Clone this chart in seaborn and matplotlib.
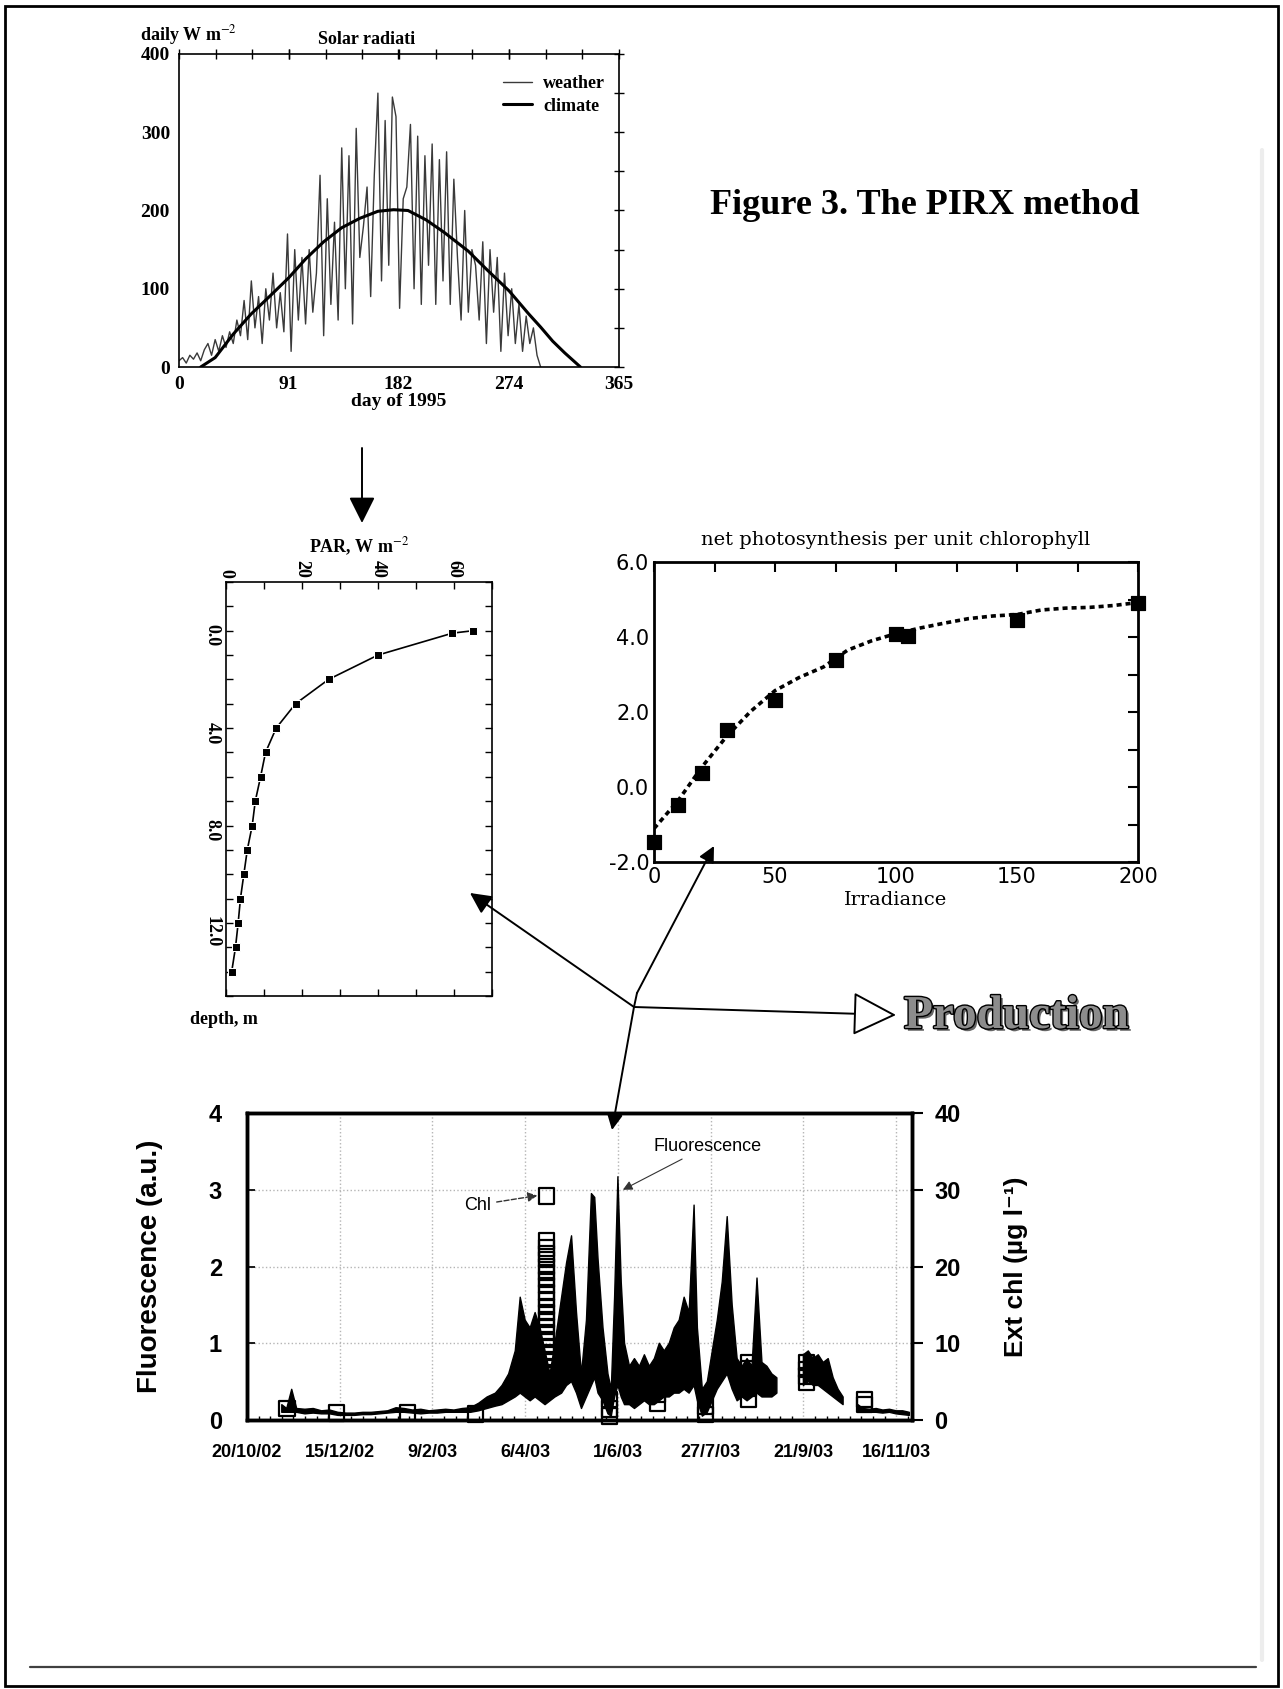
import numpy as np
import matplotlib
matplotlib.use('Agg')
import matplotlib.pyplot as plt
import matplotlib.patheffects as pe
from matplotlib.patches import Rectangle
from matplotlib.ticker import MultipleLocator, FixedLocator
import seaborn as sns

# --- solar radiation, 1995 ---
weather_day = list(range(0, 301, 3))
weather_wm2 = [8, 12, 5, 15, 10, 18, 8, 22, 30, 15,
               35, 20, 40, 25, 45, 30, 60, 40, 85, 35,
               110, 50, 90, 30, 100, 60, 120, 50, 95, 45,
               170, 20, 150, 60, 140, 55, 150, 70, 120, 245,
               40, 215, 80, 185, 60, 280, 100, 270, 55, 305,
               140, 180, 230, 90, 245, 350, 110, 315, 130, 345,
               320, 75, 215, 230, 310, 100, 295, 80, 270, 130,
               285, 80, 265, 110, 275, 80, 240, 140, 60, 200,
               70, 150, 130, 60, 160, 30, 150, 70, 140, 20,
               120, 40, 100, 30, 80, 20, 65, 30, 50, 15,
               0]
climate_day = [18, 30, 45, 60, 75, 91, 105, 120, 135, 150, 165, 178,
               190, 205, 220, 240, 255, 274, 290, 300, 310, 320, 333]
climate_wm2 = [0, 12, 42, 68, 90, 114, 138, 160, 178, 190, 199, 201,
               200, 188, 172, 148, 125, 97, 68, 51, 33, 18, 0]

# --- light profile ---
par_wm2 = [65, 59.6, 40, 27, 18.3, 13.2, 10.4, 9.1, 7.7, 6.9, 5.6, 4.7, 3.8, 3.2, 2.5, 1.5]
par_depth = [0, 0.1, 1, 2, 3, 4, 5, 6, 7, 8, 9, 10, 11, 12, 13, 14]

# --- P-I curve ---
pi_irr = [0, 10, 20, 30, 50, 75, 100, 105, 150, 200]
pi_rate = [-1.47, -0.47, 0.38, 1.51, 2.31, 3.40, 4.09, 4.02, 4.46, 4.92]
fit_irr = [0, 10, 20, 30, 40, 50, 60, 70, 80, 90, 100,
           110, 120, 130, 140, 150, 160, 170, 180, 190, 200]
fit_rate = [-1.11, -0.36, 0.55, 1.35, 2.02, 2.57, 2.92, 3.2, 3.65, 3.9, 4.09,
            4.24, 4.37, 4.49, 4.56, 4.6, 4.72, 4.77, 4.79, 4.84, 4.92]

# --- fluorescence record, days after 20/10/02 ---
fluor_day = [21, 24, 27, 30, 35, 40, 45, 50, 55, 60, 65, 70, 75, 80, 85, 90, 95, 100,
             105, 110, 115, 120, 125, 130, 135, 140, 145, 150, 154, 158, 162, 165,
             168, 171, 174, 177, 180, 183, 186, 190, 193, 196, 199, 202, 205, 208,
             210, 212, 215, 218, 220, 222, 224, 226, 228, 231, 234, 237, 240, 243,
             246, 249, 252, 255, 258, 261, 264, 267, 270, 272, 275, 278, 281, 284,
             287, 290, 293, 296, 299, 302, 305, 308, 311, 314, 317, 320, 328,
             336, 339, 342, 345, 348, 351, 354, 357, 360, 364,
             369, 372, 376, 380, 384, 388, 392, 396, 400]
fluor_low = [.10, .10, .10, .10, .08, .09, .08, .08, .06, .06, .06, .07, .07, .08, .09, .10, .10, .09,
             .08, .09, .09, .10, .10, .10, .10, .12, .15, .18, .20, .25, .30, .35,
             .30, .25, .30, .25, .20, .25, .30, .35, .45, .50, .35, .15, .30, .45,
             .55, .35, .25, .08, .05, .30, .45, .30, .20, .20, .15, .20, .25, .20,
             .20, .25, .30, .30, .35, .35, .40, .35, .45, .25, .05, .10, .25, .40,
             .50, .60, .40, .25, .30, .25, .30, .35, .30, .30, .30, .35, np.nan,
             .45, .50, .45, .45, .40, .35, .30, .25, .20, np.nan,
             .10, .10, .10, .10, .09, .10, .08, .07, .06]
fluor_high = [.20, .15, .40, .15, .14, .15, .12, .13, .10, .09, .09, .10, .10, .11, .12, .16, .15, .13,
              .14, .12, .13, .14, .13, .15, .16, .22, .30, .35, .45, .60, .90, 1.60,
              1.30, 1.20, 1.40, 1.20, .90, .60, 1.00, 1.60, 2.05, 2.40, 1.40, .60, 1.30, 2.95,
              2.90, 2.10, 1.20, .60, .40, 1.60, 3.17, 1.80, 1.00, .70, .80, .70, .85, .70,
              .80, 1.00, .90, 1.00, 1.20, 1.30, 1.60, 1.40, 2.80, 1.20, .40, .50, .90, 1.30,
              1.80, 2.65, 1.50, .80, .70, .80, .70, 1.85, .75, .70, .60, .55, np.nan,
              .85, .90, .80, .85, .75, .80, .55, .40, .30, np.nan,
              .20, .15, .14, .15, .13, .14, .12, .12, .10]
chl_day = [24, 54, 97, 138,
           181, 181, 181, 181, 181, 181, 181, 181, 181, 181, 181, 181,
           181, 181, 181, 181, 181, 181, 181, 181, 181, 181, 181, 181,
           219, 219, 219, 248, 248, 248, 277, 277,
           303, 303, 303, 303, 303, 303, 338, 338, 338, 338, 373, 373]
chl_ugl = [1.5, 0.9, 1.0, 0.8,
           29.2, 23.3, 22.4, 21.6, 20.9, 20.0, 19.2, 18.3, 17.5, 16.6, 15.7, 14.8,
           14.0, 13.1, 12.2, 11.4, 10.5, 9.6, 8.8, 7.9, 7.0, 6.2, 5.3, 4.4,
           2.7, 1.4, 0.5, 4.4, 3.3, 2.2, 1.8, 0.7,
           7.5, 6.7, 5.9, 5.1, 4.2, 2.7, 7.5, 6.6, 5.7, 4.9, 2.7, 2.0]
date_ticks = [0, 56, 112, 168, 224, 280, 336, 392]
date_labels = ['20/10/02', '15/12/02', '9/2/03', '6/4/03',
               '1/6/03', '27/7/03', '21/9/03', '16/11/03']

sns.set_theme(style='white', rc={'axes.edgecolor': 'black', 'text.color': 'black',
                                 'xtick.color': 'black', 'ytick.color': 'black',
                                 'axes.labelcolor': 'black'})
plt.rcParams['font.family'] = ['Liberation Serif', 'DejaVu Serif']
plt.rcParams['mathtext.fontset'] = 'stix'

W, H = 1283, 1689


def box(l, t, r, b):
    # pixel box on the page -> figure fraction
    return [l / W, 1 - b / H, (r - l) / W, (b - t) / H]


fig = plt.figure(figsize=(W / 100, H / 100), dpi=100)
fig.patch.set_facecolor('white')

# ---------- solar radiation ----------
ax1 = fig.add_axes(box(179, 54, 619, 367))
sns.lineplot(x=weather_day, y=weather_wm2, ax=ax1, color='#3a3a3a', lw=1.0, label='weather')
sns.lineplot(x=climate_day, y=climate_wm2, ax=ax1, color='black', lw=2.2, label='climate')
ax1.set_xlim(0, 365)
ax1.set_ylim(0, 400)
ax1.set_xticks([0, 91, 182, 274, 365])
ax1.xaxis.set_minor_locator(FixedLocator(np.linspace(0, 365, 13)))
ax1.set_yticks(range(0, 401, 100))
ax1.yaxis.set_minor_locator(MultipleLocator(50))
ax1.tick_params(which='both', direction='inout', top=True, right=True, length=7, width=1,
                labelsize=14, pad=3)
for lab in ax1.get_xticklabels() + ax1.get_yticklabels():
    lab.set_fontweight('bold')
for s in ax1.spines.values():
    s.set_linewidth(1.2)
ax1.set_xlabel('day of 1995', fontsize=14, fontweight='bold', labelpad=0)
ax1.set_ylabel('')
ax1.legend(loc='upper right', bbox_to_anchor=(0.985, 0.955), frameon=False,
           prop={'family': 'Liberation Serif', 'weight': 'bold', 'size': 13},
           handlelength=1.6, handletextpad=0.6, labelspacing=0.3, borderaxespad=0)
fig.text(140 / W, 1 - 35 / H, 'daily W m$^{-2}$', fontsize=13, fontweight='bold',
         ha='left', va='center')
fig.text(318 / W, 1 - 40 / H, 'Solar radiati', fontsize=13, fontweight='bold',
         ha='left', va='center')

# ---------- light profile ----------
ax2 = fig.add_axes(box(226, 582, 492, 996))
sns.lineplot(x=par_wm2, y=par_depth, ax=ax2, color='black', lw=1.2, marker='s',
             markersize=6, sort=False, estimator=None)
ax2.set_xlim(0, 70)
ax2.set_ylim(15, -2)
ax2.xaxis.tick_top()
ax2.xaxis.set_label_position('top')
ax2.set_xticks([0, 20, 40, 60])
ax2.xaxis.set_minor_locator(MultipleLocator(10))
ax2.set_yticks([0, 4, 8, 12])
ax2.set_yticklabels(['0.0', '4.0', '8.0', '12.0'])
ax2.yaxis.set_minor_locator(MultipleLocator(1))
ax2.tick_params(which='both', direction='in', top=True, bottom=True, left=True, right=True,
                length=5, width=1, labelsize=13)
ax2.tick_params(axis='x', labelrotation=-90, pad=3)
ax2.tick_params(axis='y', labelrotation=-90, pad=4)
for lab in ax2.get_xticklabels() + ax2.get_yticklabels():
    lab.set_fontweight('bold')
for s in ax2.spines.values():
    s.set_linewidth(1.2)
ax2.set_xlabel('PAR, W m$^{-2}$', fontsize=13, fontweight='bold', labelpad=5)
ax2.set_ylabel('')
fig.text(190 / W, 1 - 1020 / H, 'depth, m', fontsize=13, fontweight='bold',
         ha='left', va='center')

# ---------- P-I curve ----------
ax3 = fig.add_axes(box(654, 562, 1138, 862))
sns.lineplot(x=fit_irr, y=fit_rate, ax=ax3, color='black', lw=2.6, linestyle=(0, (1.4, 1.1)))
sns.scatterplot(x=pi_irr, y=pi_rate, ax=ax3, marker='s', s=115, color='black',
                edgecolor='black', zorder=3, clip_on=False)
ax3.set_xlim(0, 200)
ax3.set_ylim(-2, 6)
ax3.set_xticks(range(0, 201, 50))
ax3.xaxis.set_minor_locator(MultipleLocator(25))
ax3.set_yticks(range(-2, 7, 2))
ax3.set_yticklabels([f'{v:.1f}' for v in range(-2, 7, 2)])
ax3.yaxis.set_minor_locator(MultipleLocator(1))
ax3.tick_params(which='both', direction='in', top=True, right=True, length=7, width=1.5,
                labelsize=15)
for lab in ax3.get_xticklabels() + ax3.get_yticklabels():
    lab.set_fontfamily('DejaVu Sans')
for s in ax3.spines.values():
    s.set_linewidth(2)
ax3.set_title('net photosynthesis per unit chlorophyll', fontfamily='DejaVu Serif',
              fontsize=14, pad=12)
ax3.set_xlabel('Irradiance', fontfamily='DejaVu Serif', fontsize=14, labelpad=3)
ax3.set_ylabel('')

# ---------- fluorescence record ----------
sans = ['Liberation Sans', 'DejaVu Sans']
ax4 = fig.add_axes(box(247, 1113, 912, 1420))
ax4.fill_between(fluor_day, fluor_low, fluor_high, color='black', lw=1.0)
ax4.set_xlim(0, 401.6)
ax4.set_ylim(0, 4)
ax4.set_xticks(date_ticks, date_labels)
ax4.xaxis.set_minor_locator(MultipleLocator(7))
ax4.set_yticks(range(5))
ax4.grid(True, which='major', color='#b5b5b5', ls=':', lw=1)
ax4.tick_params(axis='x', which='major', direction='in', length=6, pad=17, labelsize=13)
ax4.tick_params(axis='x', which='minor', direction='in', length=3, bottom=True)
ax4.tick_params(axis='y', direction='in', length=6, pad=18, labelsize=17)
for lab in ax4.get_xticklabels() + ax4.get_yticklabels():
    lab.set_fontfamily(sans)
    lab.set_fontweight('bold')
for s in ax4.spines.values():
    s.set_linewidth(2.5)
ax4.set_ylabel('Fluorescence (a.u.)', fontfamily=sans, fontsize=20, fontweight='bold')
ax4.yaxis.set_label_coords(-0.126, 0.5)

ax5 = ax4.twinx()
sns.scatterplot(x=chl_day, y=chl_ugl, ax=ax5, marker='s', s=125, color='black',
                zorder=4, clip_on=False)
ax5.collections[-1].set_facecolor('none')
ax5.collections[-1].set_edgecolor('black')
ax5.collections[-1].set_linewidth(1.6)
ax5.set_ylim(0, 40)
ax5.set_yticks(range(0, 41, 10))
ax5.tick_params(axis='y', direction='out', length=8, width=1.5, pad=8, labelsize=17)
for lab in ax5.get_yticklabels():
    lab.set_fontfamily(sans)
    lab.set_fontweight('bold')
for s in ax5.spines.values():
    s.set_linewidth(2.5)
ax5.set_ylabel('Ext chl (µg l⁻¹)', fontfamily=sans, fontsize=19, fontweight='bold')
ax5.yaxis.set_label_coords(1.138, 0.5)
ax5.annotate('Chl', xy=(177, 29.3), xytext=(139, 28.0), fontfamily=sans, fontsize=13,
             ha='center', va='center',
             arrowprops=dict(arrowstyle='-|>', linestyle='--', color='#333333', lw=1,
                             shrinkA=2, shrinkB=2, mutation_scale=14))
ax4.annotate('Fluorescence', xy=(227, 3.0), xytext=(278, 3.57), fontfamily=sans,
             fontsize=13, ha='center', va='center',
             arrowprops=dict(arrowstyle='-|>', color='#333333', lw=0.8,
                             shrinkA=2, shrinkB=0, mutation_scale=14))

# ---------- page overlay: arrows, titles, scan frame ----------
ov = fig.add_axes([0, 0, 1, 1], zorder=10)
ov.set_xlim(0, W)
ov.set_ylim(H, 0)
ov.axis('off')
ov.patch.set_alpha(0)

J = (634, 1007)
head = dict(arrowstyle='-|>', color='black', lw=1.4, shrinkA=0, shrinkB=0)
ov.annotate('', xy=(362, 523), xytext=(362, 448), arrowprops=dict(head, mutation_scale=40))
ov.annotate('', xy=(470, 893), xytext=J, arrowprops=dict(head, mutation_scale=32))
ov.plot([J[0], 637], [J[1], 993], color='black', lw=1.4)
ov.annotate('', xy=(714, 846), xytext=(637, 993), arrowprops=dict(head, mutation_scale=24))
ov.annotate('', xy=(612, 1130), xytext=J, arrowprops=dict(head, mutation_scale=24))
ov.annotate('', xy=(896, 1015), xytext=J,
            arrowprops=dict(arrowstyle='-|>', fc='white', ec='black', lw=1.4,
                            shrinkA=0, shrinkB=0, mutation_scale=70))

ov.text(710, 205, 'Figure 3. The PIRX method', fontsize=26, fontweight='bold',
        ha='left', va='center')
ov.text(904, 1017, 'Production', fontsize=34, fontweight='bold', color='#8c8c8c',
        ha='left', va='center',
        path_effects=[pe.SimplePatchShadow(offset=(2, -2), shadow_rgbFace='black', alpha=0.6),
                      pe.Stroke(linewidth=2, foreground='black'), pe.Normal()])

ov.add_patch(Rectangle((5, 6), 1273, 1680, fill=False, ec='black', lw=2))
ov.plot([1262, 1262], [150, 1660], color='#ededed', lw=3)
ov.plot([30, 1256], [1667, 1667], color='#404040', lw=1.6)

fig.savefig('out.png', dpi=100)
